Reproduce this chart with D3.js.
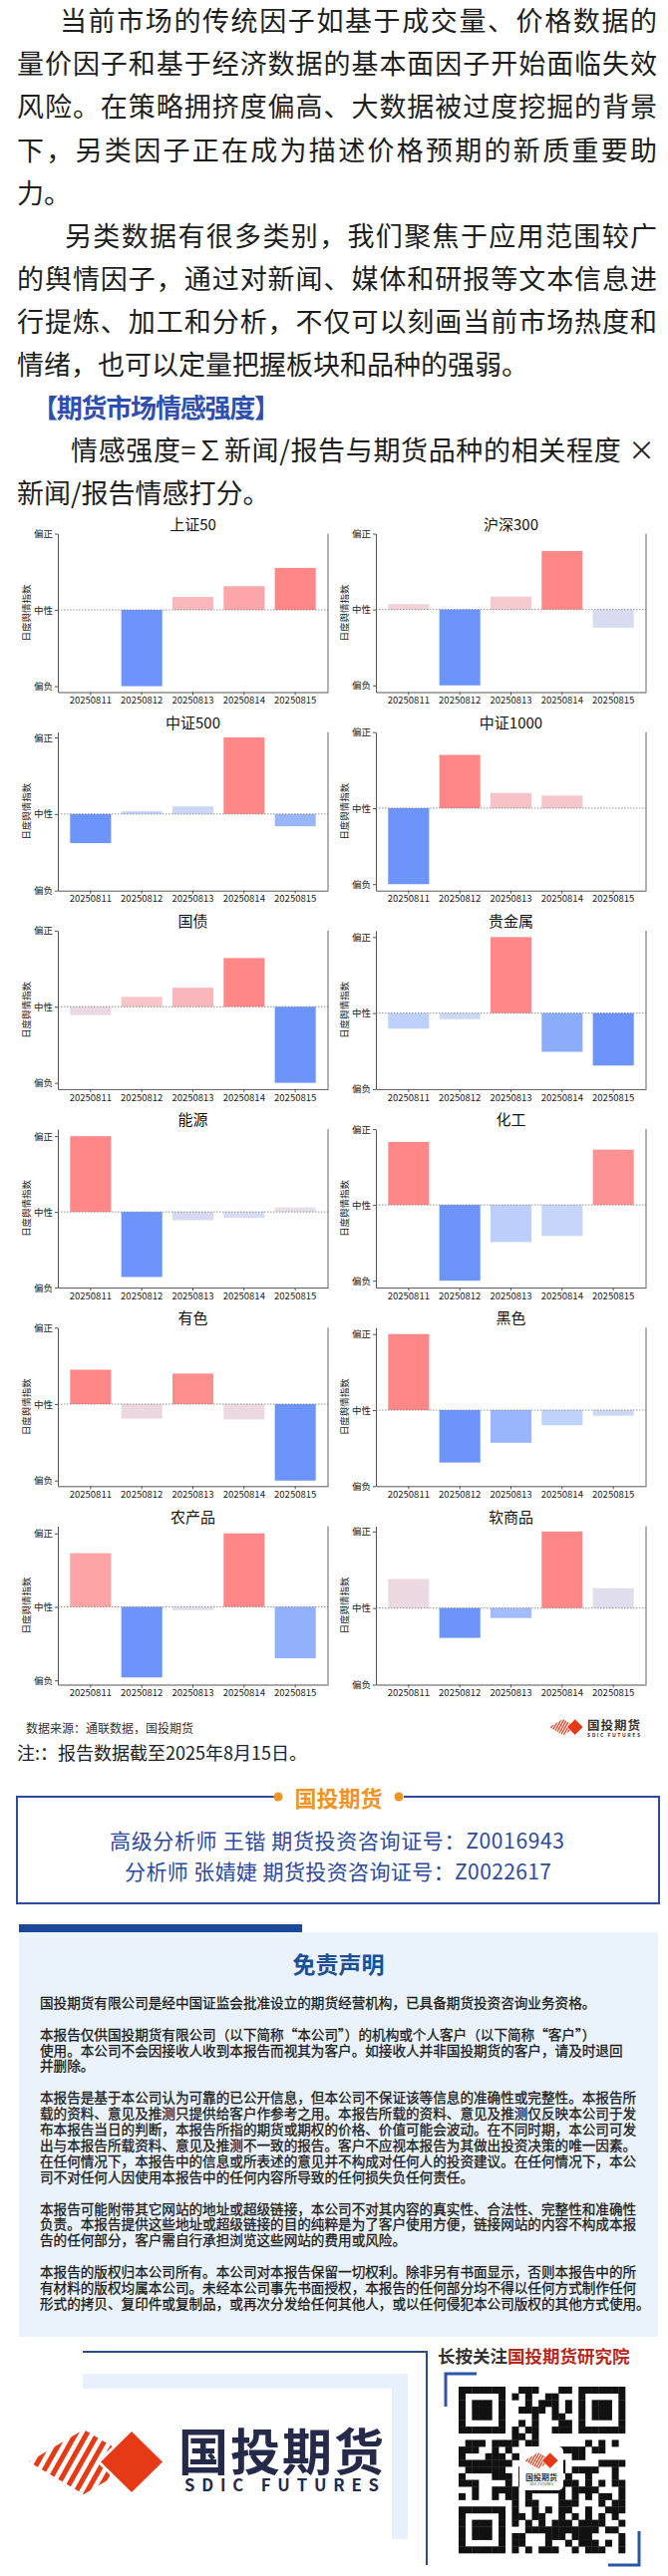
<!DOCTYPE html>
<html lang="zh-CN">
<head>
<meta charset="UTF-8">
<title>期货市场情感强度</title>
<script src="https://d3js.org/d3.v7.min.js"></script>
<style>
  body { margin: 0; background: #fff; }
  svg text { font-family: "Noto Sans CJK SC", "Noto Sans", sans-serif; }
</style>
</head>
<body>
<svg id="page" width="670" height="2585"></svg>
<script>
// ---- data ----
const dates = ["20250811", "20250812", "20250813", "20250814", "20250815"];
const yTickValues = [-1, 0, 1];
const yTickLabels = ["偏负", "中性", "偏正"];
const panelNames = ["上证50", "沪深300", "中证500", "中证1000", "国债", "贵金属",
                    "能源", "化工", "有色", "黑色", "农产品", "软商品"];

const sz50         = [0, -1.0, 0.17, 0.31, 0.55];
const hs300        = [0.07, -1.0, 0.17, 0.77, -0.24];
const zz500        = [-0.38, 0.035, 0.10, 1.0, -0.16];
const zz1000       = [-1.0, 0.70, 0.20, 0.165, 0];
const guozhai      = [-0.11, 0.13, 0.25, 0.64, -1.0];
const guijinshu    = [-0.205, -0.08, 1.0, -0.51, -0.69];
const nengyuan     = [1.0, -0.86, -0.11, -0.08, 0.06];
const huagong      = [0.83, -1.0, -0.49, -0.41, 0.73];
const youse        = [0.45, -0.19, 0.40, -0.20, -1.0];
const heise        = [1.0, -0.69, -0.43, -0.20, -0.074];
const nongchanpin  = [0.73, -0.96, -0.045, 1.0, -0.70];
const ruanshangpin = [0.38, -0.39, -0.13, 1.0, 0.26];

const panelValues = [sz50, hs300, zz500, zz1000, guozhai, guijinshu,
                     nengyuan, huagong, youse, heise, nongchanpin, ruanshangpin];

const introLines = [
  "当前市场的传统因子如基于成交量、价格数据的",
  "量价因子和基于经济数据的基本面因子开始面临失效",
  "风险。在策略拥挤度偏高、大数据被过度挖掘的背景",
  "下，另类因子正在成为描述价格预期的新质重要助",
  "力。",
  "另类数据有很多类别，我们聚焦于应用范围较广",
  "的舆情因子，通过对新闻、媒体和研报等文本信息进",
  "行提炼、加工和分析，不仅可以刻画当前市场热度和",
  "情绪，也可以定量把握板块和品种的强弱。",
  "【期货市场情感强度】",
  "情感强度=∑新闻/报告与期货品种的相关程度 ×",
  "新闻/报告情感打分。"
];

const disclaimerParas = [
  ["国投期货有限公司是经中国证监会批准设立的期货经营机构，已具备期货投资咨询业务资格。"],
  ["本报告仅供国投期货有限公司（以下简称“本公司”）的机构或个人客户（以下简称“客户”）",
   "使用。本公司不会因接收人收到本报告而视其为客户。如接收人并非国投期货的客户，请及时退回",
   "并删除。"],
  ["本报告是基于本公司认为可靠的已公开信息，但本公司不保证该等信息的准确性或完整性。本报告所",
   "载的资料、意见及推测只提供给客户作参考之用。本报告所载的资料、意见及推测仅反映本公司于发",
   "布本报告当日的判断，本报告所指的期货或期权的价格、价值可能会波动。在不同时期，本公司可发",
   "出与本报告所载资料、意见及推测不一致的报告。客户不应视本报告为其做出投资决策的唯一因素。",
   "在任何情况下，本报告中的信息或所表述的意见并不构成对任何人的投资建议。在任何情况下，本公",
   "司不对任何人因使用本报告中的任何内容所导致的任何损失负任何责任。"],
  ["本报告可能附带其它网站的地址或超级链接，本公司不对其内容的真实性、合法性、完整性和准确性",
   "负责。本报告提供这些地址或超级链接的目的纯粹是为了客户使用方便，链接网站的内容不构成本报",
   "告的任何部分，客户需自行承担浏览这些网站的费用或风险。"],
  ["本报告的版权归本公司所有。本公司对本报告保留一切权利。除非另有书面显示，否则本报告中的所",
   "有材料的版权均属本公司。未经本公司事先书面授权，本报告的任何部分均不得以任何方式制作任何",
   "形式的拷贝、复印件或复制品，或再次分发给任何其他人，或以任何侵犯本公司版权的其他方式使用。"]
];

// ---- page ----
const svg = d3.select("#page");
svg.append("rect").attr("width", 670).attr("height", 2585).attr("fill", "#fff");

// text helper: yc is the visual centre of the line
function addText(parent, t, x, yc, size, opts = {}) {
  const el = parent.append("text")
    .attr("x", x)
    .attr("y", yc + size * 0.36)
    .attr("font-size", size)
    .attr("fill", opts.fill || "#1e1e1e")
    .text(t);
  if (opts.width) el.attr("textLength", opts.width).attr("lengthAdjust", "spacing");
  if (opts.weight) el.attr("font-weight", opts.weight);
  if (opts.anchor) el.attr("text-anchor", opts.anchor);
  if (opts.stroke) el.attr("stroke", opts.fill).attr("stroke-width", opts.stroke);
  return el;
}

// intro paragraphs (start x, right edge when justified)
const introLayout = [
  [60, 659], [17, 659], [17, 659], [17, 659], [17, null],
  [65, 659], [17, 659], [17, 659], [17, null],
  [32, 281], [71, 657], [17, null]
];
introLines.forEach((t, i) => {
  const [x0, x1] = introLayout[i];
  const heading = i === 9;
  addText(svg, t, x0, 21.5 + 43.1 * i, heading ? 26 : 27, {
    width: x1 ? x1 - x0 : null,
    fill: heading ? "#2f4fb0" : "#1e1e1e",
    weight: heading ? "bold" : null
  });
});

// ---- small multiples ----
const plotW = 271, plotH = 159;
const colX = [58, 377];
const rowTop = k => 535.5 + 199.2 * k;

const barColor = d3.scaleLinear()
  .domain([0, 0.3, 0.5, 0.7, 1])
  .range(["#6d94fb", "#c2d4fb", "#e6dfea", "#f8c4c8", "#ff8787"])
  .clamp(true);

panelNames.forEach((name, i) => {
  const values = panelValues[i];
  const g = svg.append("g")
    .attr("transform", `translate(${colX[i % 2]},${rowTop(Math.floor(i / 2))})`);

  const x = d3.scaleBand().domain(dates).range([0, plotW])
    .paddingInner(0.2).paddingOuter(0.24);

  const dmin = Math.min(0, d3.min(values)), dmax = Math.max(0, d3.max(values));
  const pad = 0.05 * (dmax - dmin);
  const y = d3.scaleLinear()
    .domain([Math.min(-1, dmin - pad), Math.max(1, dmax + pad)])
    .range([plotH, 0]);

  // colour follows the position of each value within this panel's own range
  const norm = d3.scaleLinear().domain(d3.extent(values)).range([0, 1]);

  g.selectAll("rect.bar").data(values).join("rect")
    .attr("class", "bar")
    .attr("x", (d, j) => x(dates[j]))
    .attr("width", x.bandwidth())
    .attr("y", d => y(Math.max(0, d)))
    .attr("height", d => Math.abs(y(d) - y(0)))
    .attr("fill", d => barColor(norm(d)));

  // dotted neutral line
  g.append("line")
    .attr("x1", 0).attr("x2", plotW)
    .attr("y1", y(0)).attr("y2", y(0))
    .attr("stroke", "#7a7a7a").attr("stroke-width", 0.8)
    .attr("stroke-dasharray", "1.5,1.5");

  const yAxis = g.append("g")
    .call(d3.axisLeft(y).tickValues(yTickValues)
      .tickFormat((d, k) => yTickLabels[k])
      .tickSize(3).tickSizeOuter(0).tickPadding(2));

  const xAxis = g.append("g")
    .attr("transform", `translate(0,${plotH})`)
    .call(d3.axisBottom(x).tickSize(3).tickSizeOuter(0).tickPadding(2));

  [yAxis, xAxis].forEach(a => {
    a.attr("font-family", null).attr("font-size", 9.5);
    a.select(".domain").attr("stroke", "#555");
    a.selectAll(".tick line").attr("stroke", "#555");
    a.selectAll(".tick text").attr("fill", "#222");
  });

  // right spine
  g.append("line")
    .attr("x1", plotW).attr("x2", plotW).attr("y1", 0).attr("y2", plotH)
    .attr("stroke", "#666").attr("stroke-width", 1);

  g.append("text")
    .attr("x", plotW / 2).attr("y", -4)
    .attr("text-anchor", "middle")
    .attr("font-size", 15).attr("fill", "#111")
    .text(name);

  g.append("text")
    .attr("transform", `translate(-32,${plotH / 2}) rotate(-90)`)
    .attr("text-anchor", "middle")
    .attr("dominant-baseline", "central")
    .attr("font-size", 9.5).attr("fill", "#222")
    .text("日度舆情指数");
});

// ---- logo ----
let clipCount = 0;
function drawLogo(parent, tx, ty, s) {
  const id = "logoClip" + (clipCount++);
  const g = parent.append("g").attr("transform", `translate(${tx},${ty}) scale(${s})`);
  g.append("clipPath").attr("id", id)
    .append("polygon").attr("points", "0,32.5 55,0 110,32.5 55,65");
  const stripes = g.append("g").attr("clip-path", `url(#${id})`);
  d3.range(-44, 112, 11).forEach(a => {
    stripes.append("line")
      .attr("x1", a).attr("y1", 68).attr("x2", a + 40).attr("y2", -3)
      .attr("stroke", "#e63a17").attr("stroke-width", 5);
  });
  g.append("polygon")
    .attr("points", "70,32.5 103,0 136,32.5 103,65")
    .attr("fill", "#e63a17").attr("stroke", "#fff").attr("stroke-width", 3);
  return g;
}

// source line + note
addText(svg, "数据来源：通联数据，国投期货", 26, 1735, 12, { fill: "#333" });
drawLogo(svg, 551, 1725, 0.25);
addText(svg, "国投期货", 589, 1731, 12.5, { fill: "#333", weight: "bold", width: 53 });
svg.append("text").attr("x", 589).attr("y", 1743).attr("font-size", 5)
  .attr("font-weight", "bold").attr("fill", "#333")
  .attr("textLength", 53).attr("lengthAdjust", "spacing").text("SDIC FUTURES");
addText(svg, "注:：报告数据截至2025年8月15日。", 17, 1760, 18, { fill: "#222" });

// analyst box
svg.append("rect").attr("x", 17).attr("y", 1803).attr("width", 644).attr("height", 107)
  .attr("fill", "none").attr("stroke", "#2d4b9f").attr("stroke-width", 2);
svg.append("rect").attr("x", 275).attr("y", 1795).attr("width", 130).attr("height", 16)
  .attr("fill", "#fff");
[279, 400].forEach(cx => svg.append("circle").attr("cx", cx).attr("cy", 1803)
  .attr("r", 4.5).attr("fill", "#f39323"));
addText(svg, "国投期货", 339.5, 1805, 22, { anchor: "middle", weight: "bold", fill: "#f39323" });
addText(svg, "高级分析师 王锴 期货投资咨询证号：Z0016943", 110, 1847, 21,
  { fill: "#2e4a9e", width: 456 });
addText(svg, "分析师 张婧婕 期货投资咨询证号：Z0022617", 125, 1878, 21,
  { fill: "#2e4a9e", width: 428 });

// disclaimer
svg.append("rect").attr("x", 19).attr("y", 1931).attr("width", 284).attr("height", 8)
  .attr("fill", "#1a4898");
svg.append("rect").attr("x", 19).attr("y", 1939).attr("width", 641).attr("height", 406)
  .attr("fill", "#eaf3fb");
addText(svg, "免责声明", 339.5, 1972, 23, { anchor: "middle", weight: "bold", fill: "#1d4f97" });

let lineY = 2010;
disclaimerParas.forEach(p => {
  p.forEach(t => {
    addText(svg, t, 40, lineY, 13.6, { fill: "#1a1a1a", stroke: 0.3 });
    lineY += 15.9;
  });
  lineY += 15.9;
});

// footer frame
svg.append("rect").attr("x", 83).attr("y", 2382).attr("width", 326).attr("height", 166)
  .attr("fill", "#e8f1fb");
svg.append("rect").attr("x", 0).attr("y", 2397).attr("width", 393).attr("height", 188)
  .attr("fill", "#fff");
svg.append("path").attr("d", "M83,2360H428V2574")
  .attr("fill", "none").attr("stroke", "#2b4a8a").attr("stroke-width", 2);

drawLogo(svg, 29, 2438, 1);
svg.append("text").attr("x", 179).attr("y", 2478.5).attr("font-size", 50)
  .attr("font-weight", "bold").attr("fill", "#262a4a")
  .attr("textLength", 206).attr("lengthAdjust", "spacing").text("国投期货");
svg.append("text").attr("x", 185).attr("y", 2500).attr("font-size", 16.7)
  .attr("font-weight", "bold").attr("fill", "#262a4a")
  .attr("font-family", "'Liberation Sans', Arial, sans-serif")
  .attr("textLength", 195).attr("lengthAdjust", "spacing").text("SDIC FUTURES");

// follow prompt
const follow = svg.append("text").attr("x", 439).attr("y", 2365 + 17.5 * 0.36)
  .attr("font-size", 17.5).attr("font-weight", "bold");
follow.append("tspan").attr("fill", "#333").text("长按关注");
follow.append("tspan").attr("fill", "#b5291c").text("国投期货研究院");

// QR-like block (decorative)
const qrN = 25, qrX = 460, qrY = 2395, qrS = 167 / 25;
const finder = (r, c) => {
  const inBox = (r0, c0) => r >= r0 && r < r0 + 7 && c >= c0 && c < c0 + 7;
  const box = [[0, 0], [0, qrN - 7], [qrN - 7, 0]].find(([r0, c0]) => inBox(r0, c0));
  if (!box) return null;
  const rr = r - box[0], cc = c - box[1];
  const ring = Math.max(Math.abs(rr - 3), Math.abs(cc - 3));
  return ring === 3 || ring <= 1;
};
const qrG = svg.append("g");
for (let r = 0; r < qrN; r++) {
  for (let c = 0; c < qrN; c++) {
    let on = finder(r, c);
    const nearFinder = (r < 8 && c < 8) || (r < 8 && c >= qrN - 8) || (r >= qrN - 8 && c < 8);
    if (on === null) {
      if (nearFinder) on = false;
      else {
        const h = Math.sin(r * 12.9898 + c * 78.233) * 43758.5453;
        on = (h - Math.floor(h)) > 0.5;
      }
    }
    if (on) qrG.append("rect").attr("x", qrX + c * qrS).attr("y", qrY + r * qrS)
      .attr("width", qrS + 0.3).attr("height", qrS + 0.3).attr("fill", "#111");
  }
}
svg.append("rect").attr("x", 521).attr("y", 2455).attr("width", 44).attr("height", 44)
  .attr("rx", 5).attr("fill", "#fff");
drawLogo(svg, 526, 2461, 0.25);
svg.append("text").attr("x", 543).attr("y", 2489).attr("font-size", 8)
  .attr("font-weight", "bold").attr("fill", "#333").attr("text-anchor", "middle")
  .text("国投期货");
svg.append("text").attr("x", 543).attr("y", 2494).attr("font-size", 3.5)
  .attr("fill", "#333").attr("text-anchor", "middle").text("SDIC FUTURES");

svg.append("path").attr("d", "M447,2415V2382H478")
  .attr("fill", "none").attr("stroke", "#2b57a8").attr("stroke-width", 3);
svg.append("path").attr("d", "M610,2574H641V2540")
  .attr("fill", "none").attr("stroke", "#2b57a8").attr("stroke-width", 3);
</script>
</body>
</html>
